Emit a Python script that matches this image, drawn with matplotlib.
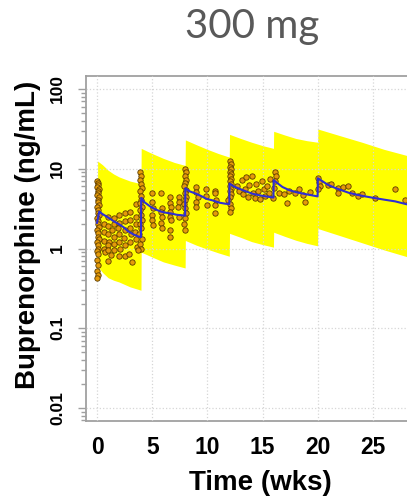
import matplotlib
matplotlib.use("Agg")
import matplotlib.pyplot as plt
from matplotlib.ticker import LogLocator, NullFormatter, FixedLocator

plt.rcParams["font.family"] = ["Liberation Sans", "DejaVu Sans"]

# --- prediction interval (yellow band), one segment per dose ---
band_week = [0.05, 0.5, 1.0, 1.5, 2.0, 3.0, 3.98,
             4.0, 5.0, 6.0, 7.0, 7.98,
             8.0, 9.0, 10.0, 11.0, 11.98,
             12.0, 13.0, 14.0, 15.0, 15.98,
             16.0, 17.0, 18.0, 19.0, 19.98,
             20.0, 22.0, 24.0, 26.0, 28.2]
band_hi = [12.5, 11.2, 9.6, 8.6, 7.9, 7.0, 6.5,
           18.0, 15.5, 13.5, 12.0, 11.0,
           23.0, 20.0, 17.5, 15.5, 14.0,
           27.0, 24.0, 21.5, 19.5, 18.0,
           29.5, 26.5, 24.0, 22.5, 21.5,
           31.5, 26.0, 21.5, 17.5, 14.5]
band_lo = [0.60, 0.50, 0.43, 0.40, 0.38, 0.33, 0.30,
           0.90, 0.78, 0.68, 0.62, 0.57,
           1.26, 1.10, 0.98, 0.88, 0.80,
           1.55, 1.38, 1.22, 1.12, 1.04,
           1.60, 1.42, 1.27, 1.16, 1.08,
           1.78, 1.45, 1.18, 0.96, 0.78]

# --- median prediction (blue line) ---
med_week = [0.0, 0.2, 0.5, 1.0, 1.5, 1.9, 2.4, 2.8, 3.3, 3.7, 3.98,
            4.0, 4.3, 4.9, 5.4, 5.8, 6.3, 6.7, 7.2, 7.8, 7.98,
            8.0, 8.4, 9.0, 9.5, 9.9, 10.5, 11.1, 11.6, 11.98,
            12.0, 12.4, 12.9, 13.5, 14.1, 14.7, 15.3, 15.98,
            16.0, 16.4, 16.8, 17.4, 18.0, 18.9, 19.98,
            20.0, 20.4, 20.9, 21.5, 22.1, 22.8, 23.6, 24.3, 25.1, 26.0, 27.0, 28.0]
med_conc = [2.1, 2.9, 2.7, 2.45, 2.2, 2.05, 1.85, 1.65, 1.5, 1.42, 1.39,
            4.3, 3.8, 3.3, 3.05, 2.9, 2.8, 2.75, 2.65, 2.6, 2.58,
            5.7, 5.2, 4.85, 4.5, 4.2, 4.0, 3.75, 3.65, 3.6,
            6.5, 6.0, 5.6, 5.2, 4.85, 4.65, 4.5, 4.35,
            7.2, 6.5, 5.9, 5.4, 5.1, 4.8, 4.5,
            7.6, 7.0, 6.3, 5.8, 5.4, 5.0, 4.7, 4.5, 4.3, 4.1, 3.9, 3.6]

# --- observed concentrations ---
obs_week = [
    # dose 1
    0.0, 0.05, 0.1, 0.0, 0.15, 0.05, 0.1, 0.0, 0.2, 0.05, 0.1, 0.15, 0.0, 0.05, 0.1, 0.2, 0.0,
    0.1, 0.05, 0.15, 0.0, 0.1, 0.05, 0.2, 0.0, 0.1, 0.05, 0.0, 0.1, 0.0, 0.05, 0.0, 0.05, 0.0,
    0.6, 0.6, 0.6, 0.6, 0.7,
    1.0, 1.0, 1.0, 1.1, 1.0, 1.0, 1.0,
    1.5, 1.5, 1.4, 1.5, 1.5, 1.5, 1.3,
    2.0, 2.0, 1.9, 2.0, 2.0, 2.1, 2.0,
    2.5, 2.5, 2.5, 2.4, 2.5, 2.5,
    3.0, 3.0, 3.0, 3.1, 3.0, 2.9, 3.2,
    3.5, 3.5, 3.5, 3.4, 3.5, 3.6,
    # dose 2
    3.9, 4.0, 3.9, 4.0, 4.1, 3.9, 4.0, 4.0, 3.9, 4.1, 3.9, 4.0, 4.1, 3.9, 4.0, 3.8, 4.1, 3.9, 4.0, 3.7,
    5.0, 5.0, 5.1, 5.0, 5.0, 5.1,
    5.8, 5.9, 5.8, 5.9, 5.8, 5.9,
    6.6, 6.6, 6.7, 6.6, 6.6, 6.7, 6.6, 6.6,
    7.4, 7.4, 7.3, 7.4,
    # dose 3
    8.0, 8.1, 8.0, 8.1, 8.0, 7.9, 8.1, 8.0, 8.1, 8.0, 7.9, 8.0, 8.1, 8.0, 7.9, 8.0,
    9.0, 9.0, 9.1, 9.0, 9.0, 9.9, 9.9, 10.0, 10.7, 10.7, 10.8, 10.7, 10.7,
    # dose 4
    12.0, 12.1, 12.0, 12.1, 12.0, 12.1, 12.0, 12.1, 12.0, 12.1, 12.0, 12.1, 12.0, 12.1, 12.0,
    11.9, 12.0, 12.1, 12.0,
    12.7, 12.9, 13.1, 13.2, 13.4, 13.5, 13.7, 13.8, 14.0, 14.1, 14.3, 14.4, 14.6, 14.8, 14.9,
    15.1, 15.2, 15.4, 15.6, 15.7,
    # dose 5
    16.1, 16.2, 16.1, 16.0, 16.5, 16.9, 17.2, 17.4, 17.9, 18.3, 18.7, 18.8, 19.3, 15.9,
    # dose 6
    20.0, 20.1, 20.2, 20.0, 20.9, 21.2, 21.8, 21.8, 22.3, 22.7, 23.1, 23.6, 24.0, 25.2, 27.0, 27.9,
]
obs_conc = [
    7.0, 6.6, 6.2, 5.9, 5.6, 5.3, 5.0, 4.7, 4.4, 4.1, 3.8, 3.5, 3.3, 3.0, 2.8, 2.6, 2.4,
    2.2, 2.0, 1.85, 1.7, 1.55, 1.4, 1.3, 1.2, 1.1, 1.0, 0.92, 0.85, 0.72, 0.62, 0.52, 0.47, 0.43,
    2.0, 1.6, 1.25, 1.0, 0.9,
    2.5, 1.9, 1.5, 1.2, 1.1, 0.95, 0.7,
    2.4, 2.0, 1.7, 1.4, 1.15, 0.95, 0.82,
    2.6, 2.1, 1.8, 1.5, 1.2, 1.0, 0.8,
    2.8, 2.2, 1.7, 1.35, 1.1, 0.8,
    2.9, 2.3, 1.8, 1.5, 1.2, 0.85, 0.68,
    3.6, 2.5, 2.0, 1.6, 1.3, 1.05,
    9.0, 8.0, 7.2, 6.5, 5.8, 5.2, 4.6, 4.1, 3.7, 3.3, 3.0, 2.6, 2.3, 2.0, 1.8, 1.5, 1.3, 1.15, 1.0, 0.95,
    4.9, 3.8, 3.2, 2.6, 2.25, 1.95,
    5.0, 3.2, 2.85, 2.45, 2.1, 1.8,
    4.4, 3.7, 3.3, 2.85, 2.47, 2.25, 1.7, 1.4,
    4.4, 3.8, 3.3, 2.45,
    10.0, 9.0, 8.0, 7.3, 6.6, 6.0, 5.4, 4.9, 4.4, 4.0, 3.6, 3.2, 2.8, 2.4, 2.0, 1.7,
    5.9, 5.1, 4.4, 3.8, 3.3, 5.5, 4.6, 3.5, 5.3, 4.9, 4.0, 3.5, 2.75,
    12.5, 11.5, 10.5, 9.8, 9.2, 8.6, 8.0, 7.5, 7.0, 6.5, 6.0, 5.6, 5.2, 4.8, 4.4,
    4.0, 3.6, 3.2, 2.9,
    6.0, 5.2, 7.3, 4.8, 5.6, 7.8, 4.4, 6.3, 8.2, 5.0, 4.3, 6.5, 5.3, 4.2, 7.0,
    5.6, 4.6, 6.0, 4.9, 7.5,
    9.1, 8.2, 7.1, 5.7, 5.0, 4.8, 3.7, 5.3, 4.9, 5.6, 4.7, 3.8, 5.1, 4.3,
    7.6, 6.8, 6.0, 5.6, 6.2, 6.4, 5.7, 5.0, 5.9, 6.1, 5.0, 4.5, 4.8, 4.3, 5.6, 4.1,
]

xticks = [0, 5, 10, 15, 20, 25]
yticks = [0.01, 0.1, 1, 10, 100]
ytick_labels = ["0.01", "0.1", "1", "10", "100"]

fig = plt.figure(figsize=(4.07, 4.97), dpi=100)
ax = fig.add_axes([86 / 407, 76 / 497, 333.4 / 407, 345 / 497])

ax.fill_between(band_week, band_lo, band_hi, color="#ffff00", lw=0, zorder=1)
ax.grid(True, which="major", color="#d6d6d6", ls=":", lw=0.9, zorder=2)
ax.set_axisbelow(False)
ax.scatter(obs_week, obs_conc, s=15, facecolor="#e49a0a", edgecolor="#5a3b00",
           linewidths=0.6, zorder=3)
ax.plot(med_week, med_conc, color="#2f2fd2", lw=1.5, zorder=4)

ax.set_yscale("log")
ax.set_xlim(-1.0, 29.2)
ax.set_ylim(10 ** -2.163, 10 ** 2.163)
ax.xaxis.set_major_locator(FixedLocator(xticks))
ax.yaxis.set_major_locator(FixedLocator(yticks))
ax.set_yticklabels(ytick_labels)
ax.yaxis.set_minor_locator(LogLocator(base=10, subs=range(2, 10)))
ax.yaxis.set_minor_formatter(NullFormatter())

for s in ax.spines.values():
    s.set_color("#a0a0a0")
    s.set_linewidth(1.3)

ax.tick_params(axis="x", length=0, pad=11, labelsize=16.5)
ax.tick_params(axis="y", which="major", length=6, width=1, color="#a0a0a0",
               pad=9, labelsize=12.5, labelrotation=90)
ax.tick_params(axis="y", which="minor", length=3.5, width=1, color="#a0a0a0")
for lab in ax.get_xticklabels() + ax.get_yticklabels():
    lab.set_fontweight("bold")
for lab in ax.get_yticklabels():
    lab.set_va("center")

fig.text(0.068, 0.527, "Buprenorphine (ng/mL)", rotation=90, ha="center", va="center",
         fontsize=20, fontweight="bold")
fig.text(0.639, 0.014, "Time (wks)", ha="center", va="baseline",
         fontsize=20, fontweight="bold")
fig.text(0.62, 0.924, "300 mg", ha="center", va="baseline", fontsize=29,
         color="#595959", family=["Lato", "DejaVu Sans"])

fig.savefig("out.png", dpi=100)
